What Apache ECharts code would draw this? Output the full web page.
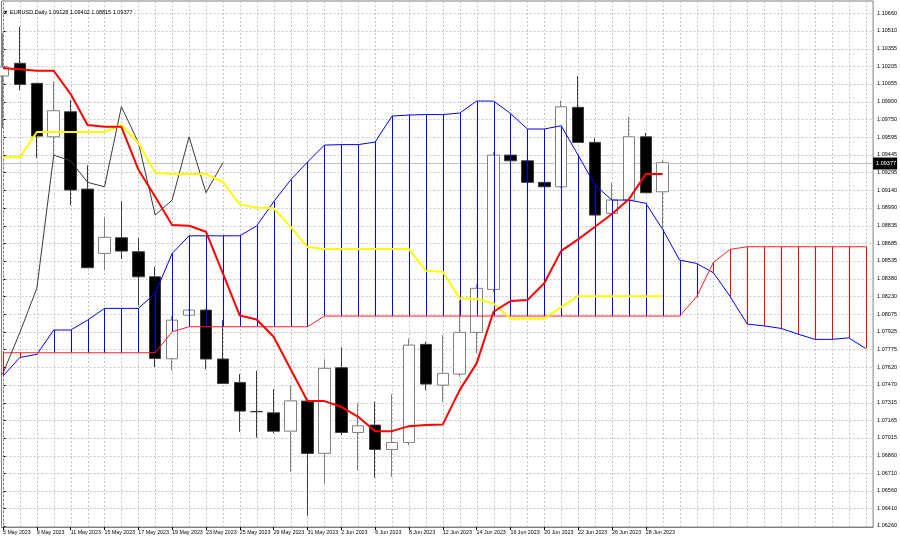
<!DOCTYPE html>
<html><head><meta charset="utf-8">
<script src="https://cdn.jsdelivr.net/npm/echarts@6/dist/echarts.min.js"></script>
<style>html,body{margin:0;padding:0;background:#fff}#c{width:900px;height:539px}</style>
</head><body><div id="c"></div>
<script>
const dates = ['5 May 2023','8 May 2023','9 May 2023','10 May 2023','11 May 2023','12 May 2023','15 May 2023','16 May 2023','17 May 2023','18 May 2023','19 May 2023','22 May 2023','23 May 2023','24 May 2023','25 May 2023','26 May 2023','29 May 2023','30 May 2023','31 May 2023','1 Jun 2023','2 Jun 2023','5 Jun 2023','6 Jun 2023','7 Jun 2023','8 Jun 2023','9 Jun 2023','12 Jun 2023','13 Jun 2023','14 Jun 2023','15 Jun 2023','16 Jun 2023','19 Jun 2023','20 Jun 2023','21 Jun 2023','22 Jun 2023','23 Jun 2023','26 Jun 2023','27 Jun 2023','28 Jun 2023','29 Jun 2023'];
const labelBars = [0,2,4,6,8,10,12,14,16,18,20,22,24,26,28,30,32,34,36,38];

const open  = [1.10122,1.10231,1.10059,1.09600,1.09815,1.09151,1.08599,1.08733,1.08613,1.08398,1.07694,1.08069,1.08112,1.07692,1.07491,1.07242,1.07230,1.07073,1.07331,1.06882,1.07617,1.07062,1.07125,1.06916,1.06976,1.07818,1.07468,1.07563,1.07921,1.08290,1.09443,1.09394,1.09209,1.09171,1.09853,1.09552,1.08943,1.09057,1.09600,1.09128];
const high  = [1.10491,1.10545,1.10062,1.10073,1.09916,1.09357,1.08913,1.09048,1.08731,1.08484,1.08061,1.08121,1.08121,1.08026,1.07563,1.07591,1.07434,1.07468,1.07339,1.07689,1.07792,1.07311,1.07325,1.07391,1.07869,1.07840,1.07898,1.08198,1.08336,1.09469,1.09452,1.09400,1.09211,1.09910,1.10122,1.09587,1.09205,1.09772,1.09635,1.09402];
const low   = [1.09675,1.10001,1.09418,1.09443,1.09014,1.08473,1.08456,1.08550,1.08155,1.07623,1.07597,1.08061,1.07606,1.07477,1.07067,1.07016,1.07056,1.06724,1.06346,1.06618,1.07039,1.06738,1.06672,1.06681,1.06953,1.07425,1.07325,1.07540,1.07740,1.08267,1.09392,1.09203,1.09164,1.09160,1.09546,1.08925,1.08937,1.09053,1.09117,1.08815];
const close = [1.10199,1.10050,1.09606,1.09824,1.09143,1.08476,1.08737,1.08619,1.08398,1.07696,1.08026,1.08112,1.07692,1.07483,1.07245,1.07239,1.07073,1.07333,1.06882,1.07612,1.07062,1.07119,1.06916,1.06976,1.07812,1.07477,1.07569,1.07921,1.08299,1.09443,1.09394,1.09209,1.09171,1.09858,1.09552,1.08928,1.09057,1.09600,1.09120,1.09377];

const tenkan = [1.10188,1.10179,1.10167,1.10167,1.09967,1.09701,1.09686,1.09686,1.09320,1.09085,1.08842,1.08836,1.08785,1.08427,1.08065,1.08031,1.07883,1.07606,1.07331,1.07331,1.07282,1.07196,1.07073,1.07073,1.07116,1.07125,1.07131,1.07425,1.07655,1.08098,1.08190,1.08198,1.08342,1.08621,1.08719,1.08828,1.08937,1.09063,1.09280,1.09280];
const kijun  = [1.09424,1.09424,1.09641,1.09641,1.09641,1.09641,1.09641,1.09701,1.09549,1.09291,1.09280,1.09280,1.09280,1.09214,1.09020,1.08991,1.08986,1.08828,1.08653,1.08636,1.08636,1.08636,1.08636,1.08636,1.08636,1.08450,1.08441,1.08213,1.08207,1.08170,1.08039,1.08039,1.08039,1.08138,1.08232,1.08232,1.08232,1.08232,1.08232,1.08232];
const senkouA = [1.07546,1.07706,1.07732,1.07941,1.07941,1.08026,1.08127,1.08127,1.08127,1.08256,1.08599,1.08750,1.08750,1.08750,1.08750,1.08836,1.09042,1.09229,1.09383,1.09529,1.09533,1.09533,1.09555,1.09778,1.09787,1.09791,1.09791,1.09804,1.09907,1.09907,1.09801,1.09667,1.09667,1.09695,1.09443,1.09186,1.09057,1.09057,1.09029,1.08805,1.08542,1.08513,1.08433,1.08226,1.07992,1.07977,1.07955,1.07906,1.07861,1.07861,1.07874,1.07783];
const senkouB = [1.07746,1.07746,1.07746,1.07746,1.07746,1.07746,1.07746,1.07746,1.07746,1.07746,1.07926,1.07969,1.07969,1.07969,1.07969,1.07969,1.07969,1.07969,1.07969,1.08061,1.08061,1.08061,1.08061,1.08061,1.08061,1.08061,1.08061,1.08061,1.08061,1.08061,1.08061,1.08061,1.08061,1.08061,1.08061,1.08061,1.08061,1.08061,1.08061,1.08061,1.08061,1.08226,1.08522,1.08634,1.08656,1.08656,1.08656,1.08656,1.08656,1.08656,1.08656,1.08656];
const chikouShift = 26;

const priceTicks = [1.10660,1.10510,1.10355,1.10205,1.10055,1.09900,1.09750,1.09595,1.09445,1.09295,1.09140,1.08990,1.08835,1.08685,1.08535,1.08380,1.08230,1.08075,1.07925,1.07775,1.07620,1.07470,1.07315,1.07165,1.07015,1.06860,1.06710,1.06560,1.06410,1.06260];

const FONT = 'Liberation Sans';
const last = close.length - 1;
const candleData = open.map((o, i) => [i, o, close[i], low[i], high[i]]);
const chikou = [];
for (let i = -1; i + chikouShift <= last; i++) chikou.push([i, close[i + chikouShift]]);
const gridData = senkouA.map((_, i) => ['v', i]).concat(priceTicks.map(p => ['h', p]));

const chart = echarts.init(document.getElementById('c'), null, {renderer: 'canvas'});
chart.setOption({
  animation: false,
  backgroundColor: '#fff',
  title: {
    text: '\u25BC EURUSD,Daily ' + [open[last], high[last], low[last], close[last]].map(v => v.toFixed(5)).join(' '),
    left: 3, top: 9, padding: 0,
    textStyle: {fontSize: 5.5, fontWeight: 'normal', fontFamily: FONT, color: '#000'}
  },
  grid: {left: 0, right: 24, top: 1, bottom: 12, show: true, borderColor: '#808080', borderWidth: 1, backgroundColor: 'transparent'},
  xAxis: {
    type: 'value', min: -0.088, max: 51.4409,
    axisLine: {show: true, lineStyle: {color: '#808080'}},
    axisTick: {show: true, customValues: labelBars, length: 3, lineStyle: {color: '#000'}},
    axisLabel: {customValues: labelBars, formatter: v => dates[Math.round(v)] || '', align: 'left', margin: 3,
      fontSize: 5.3, fontFamily: FONT, color: '#000'},
    splitLine: {show: false}
  },
  yAxis: {
    type: 'value', position: 'right', min: 1.0625, max: 1.10766, scale: true,
    axisLine: {show: true, lineStyle: {color: '#808080'}},
    axisTick: {show: true, customValues: priceTicks, length: 3, lineStyle: {color: '#000'}},
    axisLabel: {customValues: priceTicks, formatter: v => v.toFixed(5), margin: 4,
      fontSize: 5.5, fontFamily: FONT, color: '#000'},
    splitLine: {show: false}
  },
  series: [
    {
      type: 'custom', z: 1, silent: true, clip: true,
      data: gridData,
      renderItem: (params, api) => {
        const cs = params.coordSys;
        const kind = gridData[params.dataIndex][0];
        const v = gridData[params.dataIndex][1];
        let shape;
        if (kind === 'v') {
          const x = Math.round(api.coord([v, 1.08])[0]) + 0.5;
          shape = {x1: x, y1: cs.y, x2: x, y2: cs.y + cs.height};
        } else {
          const y = Math.round(api.coord([0, v])[1]) + 0.5;
          shape = {x1: cs.x, y1: y, x2: cs.x + cs.width, y2: y};
        }
        return {type: 'line', shape, style: {stroke: '#c8c8c8', lineWidth: 1, lineDash: [2, 2]}};
      }
    },
    {
      type: 'custom', z: 2, silent: true, clip: false,
      data: [[last, close[last]]],
      renderItem: (params, api) => {
        const cs = params.coordSys;
        const y = Math.round(api.coord([api.value(0), api.value(1)])[1]) + 0.5;
        const xr = cs.x + cs.width;
        return {type: 'group', children: [
          {type: 'line', shape: {x1: cs.x, y1: y, x2: xr, y2: y}, style: {stroke: '#c0c0c0', lineWidth: 1}},
          {type: 'rect', shape: {x: xr, y: y - 6, width: 24, height: 12}, style: {fill: '#000'}},
          {type: 'text', style: {text: api.value(1).toFixed(5), x: xr + 3, y: y, fill: '#fff',
            font: '5.5px "Liberation Sans"', align: 'left', verticalAlign: 'middle'}}
        ]};
      }
    },
    {
      type: 'candlestick', z: 3, barWidth: 12,
      data: candleData,
      itemStyle: {color: '#ffffff', color0: '#000000', borderColor: '#7f7f7f', borderColor0: '#3c3c3c', borderWidth: 1}
    },
    {
      type: 'custom', z: 4, silent: true,
      data: senkouA.map((a, i) => [i, a, senkouB[i]]),
      renderItem: (params, api) => {
        const x = api.value(0), a = api.value(1), b = api.value(2);
        const p1 = api.coord([x, a]), p2 = api.coord([x, b]);
        const px = Math.round(p1[0]) + 0.5;
        return {type: 'line', shape: {x1: px, y1: p1[1], x2: px, y2: p2[1]},
          style: {stroke: a >= b ? '#0000ff' : '#ff0000', lineWidth: 1}};
      }
    },
    {type: 'line', z: 5, data: senkouA.map((v, i) => [i, v]), showSymbol: false, symbol: 'none', lineStyle: {color: '#0000ff', width: 1}},
    {type: 'line', z: 5, data: senkouB.map((v, i) => [i, v]), showSymbol: false, symbol: 'none', lineStyle: {color: '#ff2020', width: 1}},
    {type: 'line', z: 5, data: chikou, showSymbol: false, symbol: 'none', clip: true, lineStyle: {color: '#3a3a3a', width: 1}},
    {type: 'line', z: 6, data: kijun.map((v, i) => [i, v]), showSymbol: false, symbol: 'none', lineStyle: {color: '#ffff00', width: 2}},
    {type: 'line', z: 7, data: tenkan.map((v, i) => [i, v]), showSymbol: false, symbol: 'none', lineStyle: {color: '#ff0000', width: 2}}
  ]
});
</script>
</body></html>
